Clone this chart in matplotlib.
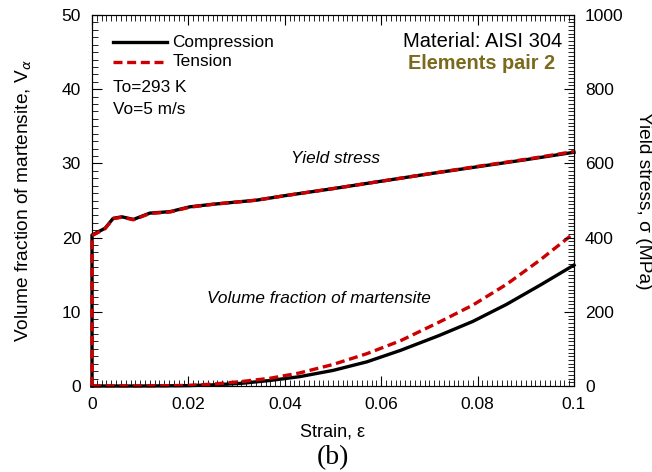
import matplotlib
matplotlib.use("Agg")
import matplotlib.pyplot as plt
from matplotlib.ticker import MultipleLocator, FixedLocator

plt.rcParams['font.family'] = ['Liberation Sans', 'DejaVu Sans']
plt.rcParams['mathtext.fontset'] = 'custom'
plt.rcParams['mathtext.rm'] = 'Liberation Sans'

# Yield stress (MPa) vs strain
strain_ys = [0, 0, 0.0027, 0.0044, 0.0062, 0.0086, 0.012, 0.0162, 0.0203, 0.0252,
             0.0342, 0.040, 0.050, 0.060, 0.070, 0.080, 0.090, 0.100]
ys_comp = [0, 407, 425, 452, 456, 449, 466, 470, 483, 490,
           501, 513, 532, 552, 572, 591, 610, 630]
ys_tens = [0, 405, 424, 451, 455, 448, 465, 469, 482, 490,
           501, 513, 532, 552, 572, 592, 611, 632]

# Volume fraction of martensite (%) vs strain
strain_vf = [0, 0.01, 0.02, 0.025, 0.031, 0.037, 0.043, 0.050, 0.057, 0.064, 0.072,
             0.079, 0.086, 0.093, 0.100]
vf_comp = [0, 0, 0.05, 0.15, 0.36, 0.75, 1.25, 2.1, 3.25, 4.8, 6.8, 8.7, 11.0, 13.6, 16.3]
vf_tens = [0, 0, 0.08, 0.25, 0.6, 1.05, 1.75, 2.9, 4.35, 6.1, 8.6, 10.9, 13.7, 17.0, 20.6]

x_ticks = [0, 0.02, 0.04, 0.06, 0.08, 0.1]
x_ticklabels = ['0', '0.02', '0.04', '0.06', '0.08', '0.1']

red = '#cc0000'
fig = plt.figure(figsize=(6.52, 4.72), dpi=100)
ax = fig.add_axes([92/652, 1-386/472, (574-92)/652, (386-15)/472])
ax2 = ax.twinx()

lw = 2.4
dash = (0, (2.7, 1.4))
ax.plot(strain_vf, vf_comp, color='black', lw=lw, clip_on=False, zorder=3)
ax.plot(strain_vf, vf_tens, color=red, lw=lw, ls=dash, clip_on=False, zorder=4)
ax2.plot(strain_ys, ys_comp, color='black', lw=lw, clip_on=False, zorder=3)
ax2.plot(strain_ys, ys_tens, color=red, lw=lw, ls=dash, clip_on=False, zorder=4)

ax.set_xlim(0, 0.1)
ax.set_ylim(0, 50)
ax2.set_ylim(0, 1000)

ax.xaxis.set_major_locator(FixedLocator(x_ticks))
ax.set_xticklabels(x_ticklabels)
ax.xaxis.set_minor_locator(MultipleLocator(0.001))
ax.yaxis.set_major_locator(MultipleLocator(10))
ax.yaxis.set_minor_locator(MultipleLocator(1))
ax2.yaxis.set_major_locator(MultipleLocator(200))
ax2.yaxis.set_minor_locator(MultipleLocator(10))

ax.tick_params(axis='x', which='both', direction='in', top=True, bottom=True)
ax.tick_params(axis='y', which='both', direction='in', left=True, right=False)
ax.tick_params(which='major', length=7, width=0.8, labelsize=12.5, pad=8)
ax.tick_params(which='minor', length=4, width=0.6)
ax2.tick_params(axis='y', which='both', direction='in')
ax2.tick_params(which='major', length=7, width=0.8, labelsize=12.5, pad=8)
ax2.tick_params(which='minor', length=4, width=0.6)

ax.set_xlabel('Strain, ε', fontsize=13, labelpad=8)
ax.set_ylabel(r'Volume fraction of martensite, V$_\alpha$', fontsize=13.8, labelpad=20)
ax2.set_ylabel('Yield stress, σ (MPa)', fontsize=13.8, rotation=270, labelpad=20)

# legend-like annotations
ax.plot([0.0044, 0.0155], [46.3, 46.3], color='black', lw=lw)
ax.plot([0.0044, 0.0155], [43.7, 43.7], color=red, lw=lw, ls=dash)
ax.text(0.0167, 46.3, 'Compression', fontsize=12.4, va='center')
ax.text(0.0167, 43.7, 'Tension', fontsize=12.4, va='center')
ax.text(0.0044, 40.2, 'To=293 K', fontsize=12.4, va='center')
ax.text(0.0044, 37.2, 'Vo=5 m/s', fontsize=12.4, va='center')
ax.text(0.0975, 46.4, 'Material: AISI 304', fontsize=14.5, ha='right', va='center')
ax.text(0.0960, 43.5, 'Elements pair 2', fontsize=14.3, ha='right', va='center',
        fontweight='bold', color='#7a6a1c')
ax.text(0.0505, 30.7, 'Yield stress', fontsize=12.4, style='italic', ha='center', va='center')
ax.text(0.0471, 11.8, 'Volume fraction of martensite', fontsize=12.4, style='italic',
        ha='center', va='center')

fig.text(0.5 * (92 + 574) / 652, 1 - 458/472, '(b)', fontsize=20,
         family=['Liberation Serif'], ha='center', va='center')

fig.savefig('out.png', dpi=100)
